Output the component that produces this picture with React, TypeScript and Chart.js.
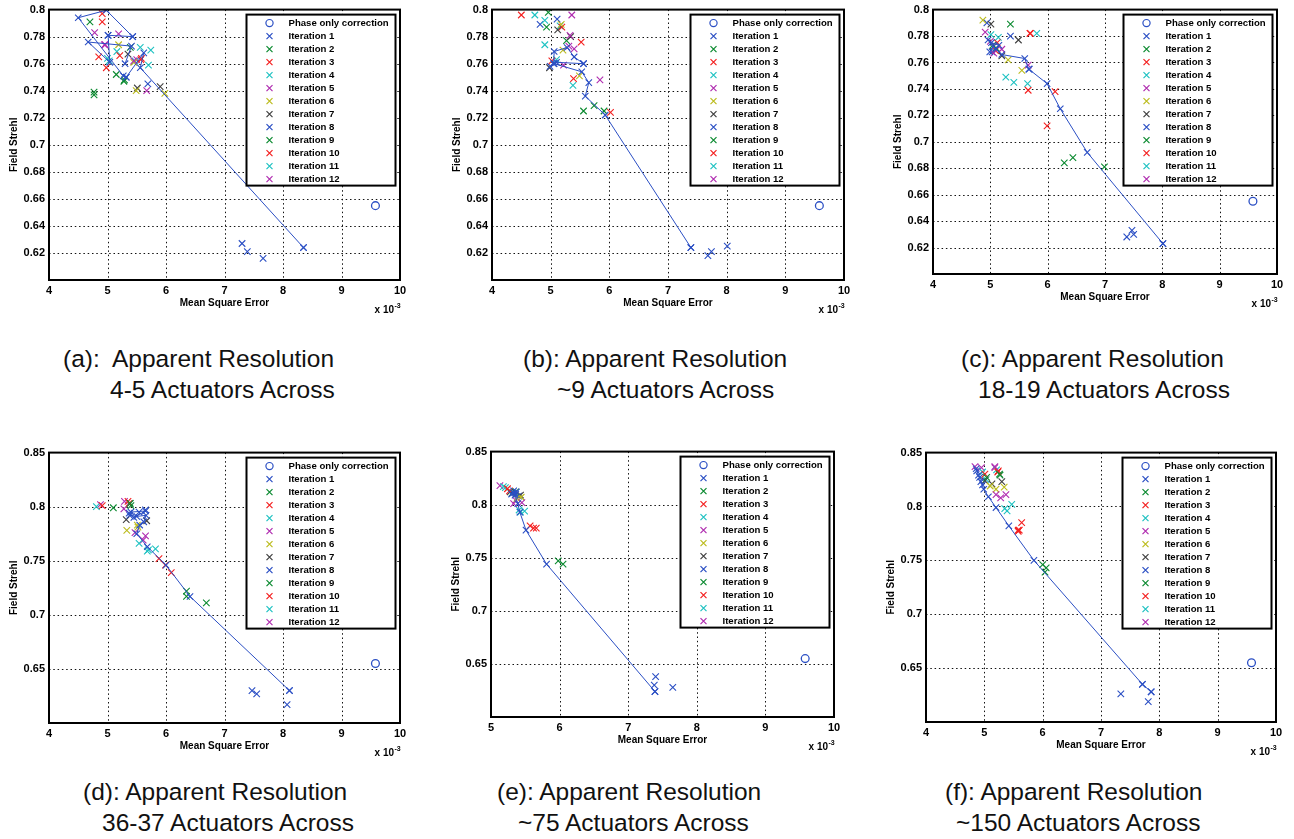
import React, { useEffect, useRef } from "react";
import { Chart, registerables } from "chart.js";

Chart.register(...registerables);

type Pt = [number, number];

// ---------- shared labels / colours ----------
const SERIES_LABELS = [
  "Phase only correction",
  "Iteration 1", "Iteration 2", "Iteration 3", "Iteration 4", "Iteration 5", "Iteration 6",
  "Iteration 7", "Iteration 8", "Iteration 9", "Iteration 10", "Iteration 11", "Iteration 12",
];
const ITERATION_COLORS = [
  "#2b4fc4", "#0b8a30", "#f42020", "#1fc2c2", "#b02db0", "#bcbc1e",
  "#404040", "#2b4fc4", "#0b8a30", "#f42020", "#1fc2c2", "#b02db0",
];
const PATH_COLOR = "#2b4fc4";
const X_AXIS_TITLE = "Mean Square Error";
const Y_AXIS_TITLE = "Field Strehl";
const X_EXP_BASE = "x 10";
const X_EXP_POWER = "-3";

// x values are in units of 10^-3
const PHASE_ONLY: Pt[] = [[9.58, 0.655]];

// ---------- (a) 4-5 actuators ----------
const A_PATH: Pt[] = [[8.35, 0.624], [5.56, 0.757], [5.62, 0.768], [5.32, 0.750], [5.27, 0.751], [4.50, 0.794], [4.98, 0.7995], [5.43, 0.780], [5.01, 0.781], [5.04, 0.761], [4.67, 0.776], [5.41, 0.773], [5.30, 0.760]];
const A_ITERATIONS: Pt[][] = [
  [[7.30, 0.627], [7.39, 0.621], [7.66, 0.616], [8.35, 0.624]],
  [[4.77, 0.739], [4.77, 0.737], [5.15, 0.752], [5.28, 0.747]],
  [[4.85, 0.765], [4.98, 0.757], [5.21, 0.766], [5.58, 0.764]],
  [[5.00, 0.764], [5.16, 0.769], [5.56, 0.772], [5.70, 0.759]],
  [[4.95, 0.774], [5.45, 0.762], [5.67, 0.740], [5.19, 0.782]],
  [[5.19, 0.774], [5.49, 0.740], [5.98, 0.738], [5.45, 0.761]],
  [[5.35, 0.767], [5.51, 0.742], [5.90, 0.743]],
  [[5.69, 0.745], [5.01, 0.781], [5.43, 0.780], [5.32, 0.750]],
  [[4.70, 0.791], [5.39, 0.772], [5.29, 0.748]],
  [[4.91, 0.797], [4.91, 0.791], [5.57, 0.763]],
  [[5.74, 0.770], [5.03, 0.762], [5.47, 0.762]],
  [[4.78, 0.783], [4.96, 0.774], [5.50, 0.763]],
];

// ---------- (b) ~9 actuators ----------
const B_PATH: Pt[] = [[7.39, 0.624], [5.93, 0.722], [5.59, 0.736], [5.65, 0.746], [5.53, 0.754], [5.06, 0.760], [5.10, 0.761], [5.56, 0.760], [5.40, 0.765], [5.28, 0.772], [5.06, 0.769], [5.05, 0.760], [4.99, 0.758]];
const B_ITERATIONS: Pt[][] = [
  [[7.39, 0.624], [7.68, 0.618], [7.74, 0.621], [8.01, 0.625]],
  [[4.96, 0.798], [4.93, 0.787], [5.56, 0.725], [5.74, 0.729]],
  [[4.50, 0.796], [5.52, 0.776], [5.39, 0.749], [6.02, 0.724]],
  [[4.73, 0.796], [4.90, 0.792], [4.90, 0.774], [5.38, 0.744]],
  [[5.36, 0.796], [5.33, 0.781], [5.40, 0.771], [5.84, 0.748]],
  [[5.18, 0.789], [5.21, 0.770], [5.49, 0.751]],
  [[5.12, 0.785], [5.34, 0.780], [4.98, 0.757]],
  [[5.11, 0.793], [4.82, 0.789], [5.56, 0.760]],
  [[5.27, 0.777], [5.91, 0.725]],
  [[5.19, 0.787], [5.02, 0.762]],
  [[5.16, 0.788], [5.10, 0.763]],
  [[5.31, 0.773], [5.22, 0.759]],
];

// ---------- (c) 18-19 actuators ----------
const C_PATH: Pt[] = [[8.01, 0.623], [6.69, 0.692], [6.22, 0.725], [5.99, 0.744], [5.67, 0.755], [5.60, 0.763], [5.20, 0.766], [5.10, 0.770], [5.15, 0.773], [5.02, 0.775], [4.96, 0.777], [5.05, 0.772], [4.99, 0.768]];
const C_ITERATIONS: Pt[][] = [
  [[7.38, 0.628], [7.47, 0.633], [7.50, 0.630], [8.01, 0.623]],
  [[5.35, 0.789], [6.29, 0.684], [6.44, 0.688], [6.99, 0.681]],
  [[5.70, 0.782], [5.66, 0.739], [6.13, 0.738], [5.99, 0.712]],
  [[5.01, 0.781], [5.27, 0.749], [5.41, 0.745], [5.65, 0.744]],
  [[4.91, 0.783], [5.66, 0.758], [5.06, 0.767]],
  [[4.87, 0.792], [5.31, 0.762], [5.55, 0.754]],
  [[5.01, 0.789], [5.49, 0.777], [5.20, 0.765]],
  [[4.94, 0.790], [5.35, 0.780], [5.03, 0.768], [5.68, 0.755]],
  [[5.10, 0.771], [5.04, 0.773]],
  [[5.12, 0.775], [5.09, 0.769], [5.69, 0.782]],
  [[5.14, 0.779], [5.81, 0.782]],
  [[5.20, 0.770], [5.00, 0.776]],
];

// ---------- (d) 36-37 actuators ----------
const D_PATH: Pt[] = [[8.11, 0.630], [6.41, 0.717], [6.00, 0.746], [5.68, 0.763], [5.50, 0.775], [5.55, 0.783], [5.62, 0.786], [5.66, 0.792], [5.50, 0.791], [5.38, 0.792], [5.40, 0.795], [5.65, 0.796], [5.45, 0.790]];
const D_ITERATIONS: Pt[][] = [
  [[7.47, 0.630], [7.55, 0.627], [8.07, 0.617], [8.11, 0.630]],
  [[5.10, 0.799], [5.39, 0.803], [6.35, 0.722], [6.35, 0.717]],
  [[4.91, 0.801], [5.35, 0.805], [5.88, 0.752], [5.99, 0.746]],
  [[4.81, 0.800], [5.54, 0.766], [5.68, 0.759], [5.82, 0.761]],
  [[4.88, 0.802], [5.29, 0.805], [5.47, 0.776], [5.65, 0.773]],
  [[5.33, 0.778], [5.51, 0.783], [5.52, 0.781]],
  [[5.32, 0.788], [5.67, 0.787]],
  [[5.65, 0.797], [5.54, 0.795], [5.37, 0.794]],
  [[6.69, 0.711], [5.40, 0.801]],
  [[6.09, 0.739], [5.37, 0.803]],
  [[5.38, 0.803], [5.70, 0.760]],
  [[5.28, 0.798], [5.61, 0.769]],
];

// ---------- (e) ~75 actuators ----------
const E_PATH: Pt[] = [[7.39, 0.624], [5.81, 0.744], [5.51, 0.776], [5.42, 0.793], [5.39, 0.801], [5.35, 0.809], [5.33, 0.811], [5.37, 0.812], [5.30, 0.810]];
const E_ITERATIONS: Pt[][] = [
  [[7.40, 0.638], [7.38, 0.630], [7.39, 0.624], [7.65, 0.628]],
  [[5.98, 0.747], [6.05, 0.744], [5.36, 0.812]],
  [[5.24, 0.815], [5.57, 0.780], [5.66, 0.778], [5.62, 0.778]],
  [[5.18, 0.817], [5.43, 0.793], [5.49, 0.794]],
  [[5.13, 0.818], [5.33, 0.801], [5.45, 0.802]],
  [[5.44, 0.807], [5.38, 0.806]],
  [[5.28, 0.812], [5.43, 0.809]],
  [[5.33, 0.813], [5.36, 0.810], [5.40, 0.808]],
  [[5.31, 0.811]],
  [[5.27, 0.813]],
  [[5.21, 0.816], [5.41, 0.795]],
  [[5.36, 0.804]],
];

// ---------- (f) ~150 actuators ----------
const F_PATH: Pt[] = [[7.86, 0.628], [7.71, 0.635], [5.85, 0.750], [5.42, 0.782], [5.20, 0.799], [5.07, 0.809], [4.99, 0.816], [4.94, 0.823], [4.90, 0.829], [4.86, 0.835]];
const F_ITERATIONS: Pt[][] = [
  [[7.34, 0.626], [7.71, 0.635], [7.81, 0.619], [7.86, 0.628]],
  [[6.00, 0.746], [6.06, 0.743], [5.04, 0.827], [5.26, 0.830]],
  [[5.60, 0.778], [5.64, 0.785], [5.58, 0.777], [5.01, 0.830], [5.23, 0.832]],
  [[5.35, 0.798], [5.47, 0.802], [5.39, 0.796], [4.97, 0.832]],
  [[4.84, 0.837], [5.18, 0.837], [5.20, 0.811], [5.28, 0.808], [5.37, 0.811]],
  [[5.10, 0.819], [5.20, 0.816], [5.34, 0.818]],
  [[5.01, 0.824], [5.13, 0.821], [5.30, 0.823]],
  [[4.87, 0.833], [4.92, 0.827], [4.97, 0.820]],
  [[6.04, 0.739], [5.27, 0.829]],
  [[5.24, 0.833], [5.58, 0.778]],
  [[5.21, 0.834], [5.03, 0.825]],
  [[4.95, 0.836], [5.18, 0.836]],
];

// ---------- panel layout (positions only) ----------
type PanelCfg = {
  path: Pt[];
  iters: Pt[][];
  xMin: number;
  yMax: number;
  yStep: number;
  box: [number, number, number, number]; // plot area L,T,R,B
  caption: [string, string];
  capLeft: [number, number];
  capBase: [number, number];
};

const PANELS: PanelCfg[] = [
  { path: A_PATH, iters: A_ITERATIONS, xMin: 4, yMax: 0.8, yStep: 0.02, box: [49, 7, 400, 280],
    caption: ["(a):  Apparent Resolution", "4-5 Actuators Across"], capLeft: [63, 110], capBase: [368, 399] },
  { path: B_PATH, iters: B_ITERATIONS, xMin: 4, yMax: 0.8, yStep: 0.02, box: [492, 7, 844, 280],
    caption: ["(b): Apparent Resolution", "~9 Actuators Across"], capLeft: [523, 557], capBase: [368, 399] },
  { path: C_PATH, iters: C_ITERATIONS, xMin: 4, yMax: 0.8, yStep: 0.02, box: [933, 7, 1277, 274],
    caption: ["(c): Apparent Resolution", "18-19 Actuators Across"], capLeft: [961, 978], capBase: [368, 399] },
  { path: D_PATH, iters: D_ITERATIONS, xMin: 4, yMax: 0.85, yStep: 0.05, box: [49, 450, 400, 723],
    caption: ["(d): Apparent Resolution", "36-37 Actuators Across"], capLeft: [83, 102], capBase: [801, 832] },
  { path: E_PATH, iters: E_ITERATIONS, xMin: 5, yMax: 0.85, yStep: 0.05, box: [491, 449, 834, 717],
    caption: ["(e): Apparent Resolution", "~75 Actuators Across"], capLeft: [497, 518], capBase: [801, 832] },
  { path: F_PATH, iters: F_ITERATIONS, xMin: 4, yMax: 0.85, yStep: 0.05, box: [926, 450, 1276, 722],
    caption: ["(f): Apparent Resolution", "~150 Actuators Across"], capLeft: [945, 956], capBase: [801, 832] },
];

const FONT = "'Liberation Sans', Arial, Helvetica, sans-serif";
const Y_AXIS_W = 50;
const X_AXIS_H = 45;
const PAD_TOP = 8;
const PAD_RIGHT = 12;

const toXY = (pts: Pt[]) => pts.map(([x, y]) => ({ x, y }));

const decorPlugin = {
  id: "matlabDecor",
  beforeDatasetsDraw(chart: any) {
    const ctx = chart.ctx;
    const { left, top, right, bottom } = chart.chartArea;
    const xs = chart.scales.x;
    const ys = chart.scales.y;
    ctx.save();
    ctx.strokeStyle = "#111";
    ctx.lineWidth = 1;
    ctx.setLineDash([1.5, 2.8]);
    xs.ticks.forEach((t: any) => {
      const px = Math.round(xs.getPixelForValue(t.value)) + 0.5;
      if (px <= left + 2 || px >= right - 2) return;
      ctx.beginPath();
      ctx.moveTo(px, top);
      ctx.lineTo(px, bottom);
      ctx.stroke();
    });
    ys.ticks.forEach((t: any) => {
      const py = Math.round(ys.getPixelForValue(t.value)) + 0.5;
      if (py <= top + 2 || py >= bottom - 2) return;
      ctx.beginPath();
      ctx.moveTo(left, py);
      ctx.lineTo(right, py);
      ctx.stroke();
    });
    ctx.restore();
  },
  afterDatasetsDraw(chart: any) {
    const ctx = chart.ctx;
    const { left, top, right, bottom } = chart.chartArea;
    ctx.save();
    // legend box
    const bw = 149;
    const bh = 171;
    const bx = right - 4.5 - bw;
    const by = top + 5;
    ctx.fillStyle = "#fff";
    ctx.fillRect(bx, by, bw, bh);
    ctx.lineWidth = 2;
    ctx.strokeStyle = "#000";
    ctx.strokeRect(bx, by, bw, bh);
    const items = chart.data.datasets.filter((d: any) => d.label);
    items.forEach((d: any, i: number) => {
      const y = by + 8.5 + i * 13;
      const mx = bx + 23;
      ctx.strokeStyle = d.borderColor;
      ctx.lineWidth = 1.2;
      ctx.beginPath();
      if (d.pointStyle === "circle") {
        ctx.arc(mx, y, 3.6, 0, Math.PI * 2);
      } else {
        ctx.moveTo(mx - 3, y - 3);
        ctx.lineTo(mx + 3, y + 3);
        ctx.moveTo(mx + 3, y - 3);
        ctx.lineTo(mx - 3, y + 3);
      }
      ctx.stroke();
      ctx.fillStyle = "#000";
      ctx.font = `bold 9.6px ${FONT}`;
      ctx.textAlign = "left";
      ctx.textBaseline = "middle";
      ctx.fillText(d.label, bx + 42, y + 0.5);
    });
    // axes frame
    ctx.lineWidth = 2;
    ctx.strokeStyle = "#000";
    ctx.strokeRect(left, top, right - left, bottom - top);
    // axis titles
    ctx.fillStyle = "#000";
    ctx.font = `bold 10px ${FONT}`;
    ctx.textAlign = "center";
    ctx.textBaseline = "middle";
    ctx.fillText(X_AXIS_TITLE, (left + right) / 2, bottom + 23);
    ctx.save();
    ctx.translate(left - 35, (top + bottom) / 2);
    ctx.rotate(-Math.PI / 2);
    ctx.fillText(Y_AXIS_TITLE, 0, 0);
    ctx.restore();
    // exponent
    ctx.textBaseline = "alphabetic";
    ctx.textAlign = "right";
    ctx.font = `bold 10px ${FONT}`;
    ctx.fillText(X_EXP_BASE, right - 6, bottom + 33);
    ctx.textAlign = "left";
    ctx.font = `bold 7px ${FONT}`;
    ctx.fillText(X_EXP_POWER, right - 5.5, bottom + 28);
    ctx.restore();
  },
};

function Panel({ cfg }: { cfg: PanelCfg }) {
  const ref = useRef<HTMLCanvasElement>(null);
  const [L, T, R, B] = cfg.box;
  const w = R - L + Y_AXIS_W + PAD_RIGHT;
  const h = B - T + PAD_TOP + X_AXIS_H;

  useEffect(() => {
    if (!ref.current) return;
    const datasets: any[] = [];
    datasets.push({
      label: "",
      data: toXY(cfg.path),
      showLine: true,
      borderColor: PATH_COLOR,
      backgroundColor: PATH_COLOR,
      borderWidth: 1,
      pointStyle: "crossRot",
      pointRadius: 4.5,
      pointBorderWidth: 1.1,
      pointBorderColor: PATH_COLOR,
      fill: false,
      tension: 0,
    });
    datasets.push({
      label: SERIES_LABELS[0],
      data: toXY(PHASE_ONLY),
      showLine: false,
      borderColor: PATH_COLOR,
      backgroundColor: "rgba(0,0,0,0)",
      pointStyle: "circle",
      pointRadius: 3.9,
      pointBorderWidth: 1.3,
      pointBorderColor: PATH_COLOR,
      pointBackgroundColor: "rgba(0,0,0,0)",
    });
    cfg.iters.forEach((pts, i) => {
      datasets.push({
        label: SERIES_LABELS[i + 1],
        data: toXY(pts),
        showLine: false,
        borderColor: ITERATION_COLORS[i],
        backgroundColor: ITERATION_COLORS[i],
        pointStyle: "crossRot",
        pointRadius: 4.6,
        pointBorderWidth: 1.1,
        pointBorderColor: ITERATION_COLORS[i],
      });
    });

    const tickFont = { family: FONT, size: 11, weight: "bold" as const };
    const chart = new Chart(ref.current, {
      type: "scatter",
      data: { datasets },
      options: {
        animation: false,
        responsive: false,
        maintainAspectRatio: false,
        events: [],
        layout: { padding: { top: PAD_TOP, right: PAD_RIGHT, left: 0, bottom: 0 } },
        plugins: { legend: { display: false }, tooltip: { enabled: false } },
        scales: {
          x: {
            type: "linear",
            min: cfg.xMin,
            max: 10,
            afterFit: (s: any) => { s.height = X_AXIS_H; },
            grid: { display: false, drawTicks: false },
            border: { display: false },
            ticks: {
              stepSize: 1,
              color: "#000",
              font: tickFont,
              padding: 4,
              maxRotation: 0,
              autoSkip: false,
              callback: (v: any) => String(v),
            },
          },
          y: {
            type: "linear",
            min: 0.6,
            max: cfg.yMax,
            afterFit: (s: any) => { s.width = Y_AXIS_W; },
            grid: { display: false, drawTicks: false },
            border: { display: false },
            ticks: {
              stepSize: cfg.yStep,
              color: "#000",
              font: tickFont,
              padding: 4,
              autoSkip: false,
              callback: (v: any) => (Math.abs(Number(v) - 0.6) < 1e-9 ? "" : String(Number(Number(v).toFixed(2)))),
            },
          },
        },
      } as any,
      plugins: [decorPlugin],
    });
    return () => chart.destroy();
  }, []);

  return (
    <canvas
      ref={ref}
      width={w}
      height={h}
      style={{ position: "absolute", left: L - Y_AXIS_W, top: T - PAD_TOP, width: w, height: h }}
    />
  );
}

export default function App() {
  const capSize = 24.5;
  return (
    <div style={{ position: "absolute", left: 0, top: 0, width: 1294, height: 839, background: "#fff", overflow: "hidden" }}>
      {PANELS.map((p, i) => (
        <React.Fragment key={i}>
          <Panel cfg={p} />
          {p.caption.map((line, j) => (
            <div
              key={j}
              style={{
                position: "absolute",
                left: p.capLeft[j],
                top: p.capBase[j] - 20.7,
                fontFamily: FONT,
                fontSize: capSize,
                lineHeight: `${capSize}px`,
                whiteSpace: "pre",
                color: "#111",
              }}
            >
              {line}
            </div>
          ))}
        </React.Fragment>
      ))}
    </div>
  );
}
